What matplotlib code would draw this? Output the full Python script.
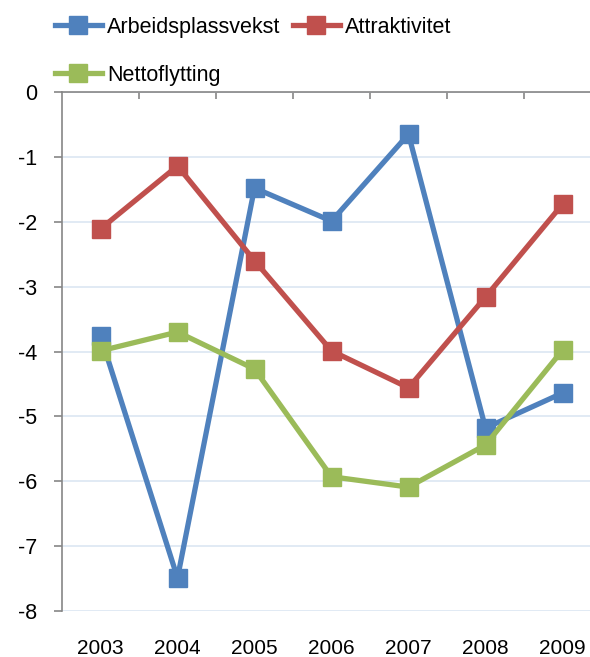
import matplotlib.pyplot as plt

plt.rcParams['font.family'] = ['Liberation Sans', 'DejaVu Sans']

years = ['2003', '2004', '2005', '2006', '2007', '2008', '2009']
arbeid = [-3.76, -7.49, -1.48, -1.99, -0.65, -5.18, -4.64]
attrak = [-2.11, -1.14, -2.60, -3.99, -4.56, -3.16, -1.73]
netto = [-3.99, -3.70, -4.27, -5.93, -6.09, -5.44, -3.98]

W, H = 590, 657
fig = plt.figure(figsize=(W/100, H/100), dpi=100)
ax = fig.add_axes([62/W, (H-611)/H, (601-62)/W, (611-92)/H])

x = range(len(years))
l1, = ax.plot(x, arbeid, color='#4F81BD', lw=3.8, marker='s', ms=13, label='Arbeidsplassvekst')
l2, = ax.plot(x, attrak, color='#C0504D', lw=3.8, marker='s', ms=13, label='Attraktivitet')
l3, = ax.plot(x, netto, color='#9BBB59', lw=3.8, marker='s', ms=13, label='Nettoflytting')

ax.set_xlim(-0.5, 6.5)
ax.set_ylim(-8, 0)
ax.set_yticks(range(-8, 1))
ax.set_yticklabels([str(v) for v in range(-8, 1)])
ax.yaxis.grid(True, color='#DCE6F2', lw=1.2)
ax.set_axisbelow(True)

ax.set_xticks(list(x))
ax.set_xticklabels(years)
ax.set_xticks([i + 0.5 for i in range(6)], minor=True)
ax.tick_params(axis='x', which='major', length=0, pad=20, labelsize=15)
ax.tick_params(axis='x', which='minor', top=True, bottom=False, direction='in', length=5, color='#868686', width=1.2)
ax.tick_params(axis='y', length=6, color='#868686', width=1.2, pad=12, labelsize=15.5)

for s in ['right', 'bottom']:
    ax.spines[s].set_visible(False)
for s in ['left', 'top']:
    ax.spines[s].set_color('#868686')
    ax.spines[s].set_linewidth(1.2)

# legend fills by column, so order to get rows like the reference
fig.legend(handles=[l1, l3, l2], loc='upper left', bbox_to_anchor=(46/W, 1 - 8/H), ncol=2,
           frameon=False, fontsize=15.5, handlelength=2.2, handletextpad=0.25,
           columnspacing=0.55, labelspacing=1.25, borderaxespad=0)

fig.savefig('out.png', dpi=100)
